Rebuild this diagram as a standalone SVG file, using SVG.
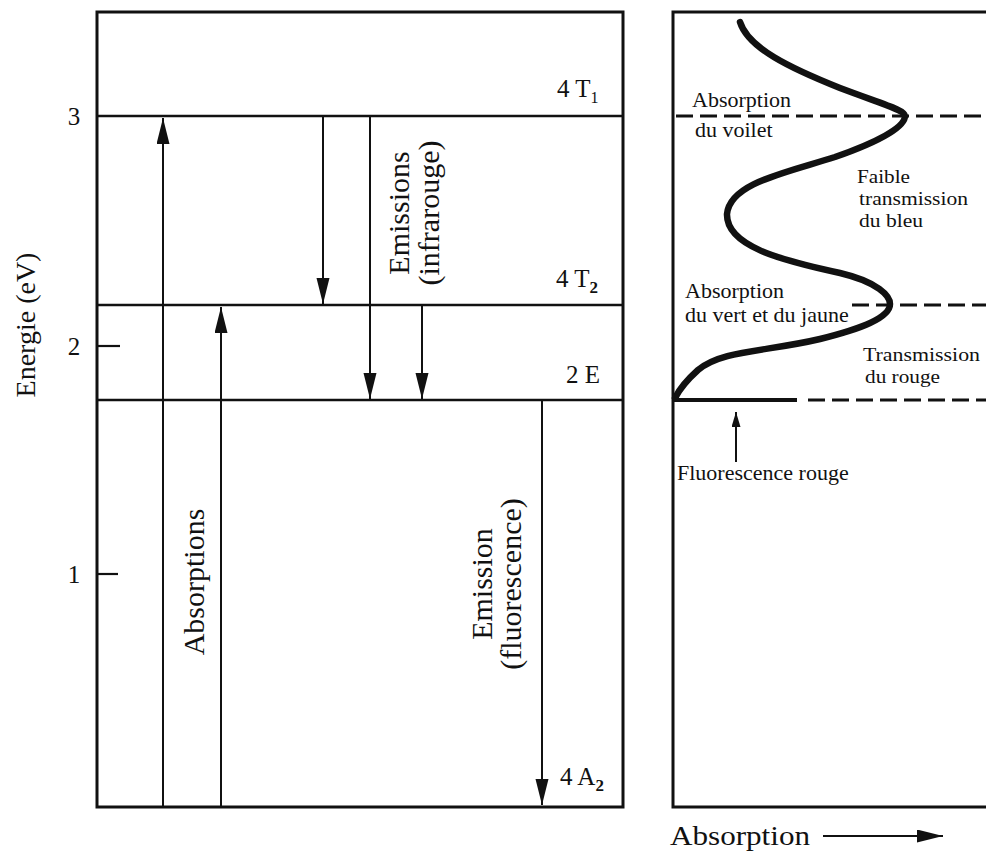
<svg xmlns="http://www.w3.org/2000/svg" width="986" height="852" viewBox="0 0 986 852">
<style>
text{font-family:"Liberation Serif","Times New Roman",serif;fill:#111}
.box{fill:none;stroke:#111;stroke-width:3}
.lvl{stroke:#111;stroke-width:2.6}
.tick{stroke:#111;stroke-width:2.2}
.arr{stroke:#111;stroke-width:2;fill:none}
.dash{stroke:#111;stroke-width:3;stroke-dasharray:17 7;fill:none}
.big{font-size:30px}
.lab{font-size:25px}
.sm{font-size:22px}
.xs{font-size:19.5px}
</style>
<defs>
<marker id="ah" markerUnits="userSpaceOnUse" markerWidth="27" markerHeight="14" refX="26" refY="6.5" orient="auto">
<path d="M0,0 L26,6.5 L0,13 z" fill="#111"/>
</marker>
<marker id="ahs" markerUnits="userSpaceOnUse" markerWidth="16" markerHeight="10" refX="15" refY="4.5" orient="auto">
<path d="M0,0 L15,4.5 L0,9 z" fill="#111"/>
</marker>
</defs>
<rect fill="#fff" width="986" height="852"/>

<g id="energy-axis">
<rect class="box" x="97" y="12" width="526" height="795"/>
<line class="tick" x1="97" y1="346" x2="120" y2="346"/>
<line class="tick" x1="97" y1="574" x2="118" y2="574"/>
<text x="74" y="125" text-anchor="middle" font-size="25">3</text>
<text x="74" y="355" text-anchor="middle" font-size="25">2</text>
<text x="74" y="583" text-anchor="middle" font-size="25">1</text>
<text transform="translate(35,325) rotate(-90)" text-anchor="middle" font-size="28">Energie (eV)</text>
</g>

<g id="level-4T1">
<line class="lvl" x1="97" y1="116" x2="623" y2="116"/>
<text class="lab" x="557" y="97">4 T<tspan dy="6" font-size="16">1</tspan></text>
</g>
<g id="level-4T2">
<line class="lvl" x1="97" y1="305" x2="623" y2="305"/>
<text class="lab" x="556" y="287">4 T<tspan dy="6" font-size="17" font-weight="bold">2</tspan></text>
</g>
<g id="level-2E">
<line class="lvl" x1="97" y1="400" x2="623" y2="400"/>
<text class="lab" x="566" y="383">2 E</text>
</g>
<g id="level-4A2">
<text class="lab" x="560" y="785">4 A<tspan dy="6" font-size="17" font-weight="bold">2</tspan></text>
</g>

<g id="connectors">
<line class="arr" x1="163" y1="807" x2="163" y2="118" marker-end="url(#ah)"/>
<line class="arr" x1="221" y1="807" x2="221" y2="307" marker-end="url(#ah)"/>
<line class="arr" x1="323" y1="116" x2="323" y2="304" marker-end="url(#ah)"/>
<line class="arr" x1="370" y1="116" x2="370" y2="399" marker-end="url(#ah)"/>
<line class="arr" x1="422" y1="305" x2="422" y2="399" marker-end="url(#ah)"/>
<line class="arr" x1="542" y1="400" x2="542" y2="805" marker-end="url(#ah)"/>
<line class="arr" x1="736" y1="462" x2="736" y2="412" marker-end="url(#ahs)"/>
<line class="arr" x1="823" y1="836" x2="943" y2="836" stroke-width="2.2" marker-end="url(#ah)"/>
</g>

<g id="label-emissions">
<text class="big" transform="translate(409,213) rotate(-90)" text-anchor="middle">Emissions</text>
<text class="big" transform="translate(439,213) rotate(-90)" text-anchor="middle">(infrarouge)</text>
</g>
<g id="label-absorptions">
<text class="big" transform="translate(204,582) rotate(-90)" text-anchor="middle">Absorptions</text>
</g>
<g id="label-emission">
<text class="big" transform="translate(492,584) rotate(-90)" text-anchor="middle">Emission</text>
<text class="big" transform="translate(521,584) rotate(-90)" text-anchor="middle">(fluorescence)</text>
</g>

<g id="absorption-panel">
<path class="box" d="M986,12 L673,12 L673,807 L986,807"/>
<path d="M740,22 C748,48 790,68 840,88 C885,105 905,110 905,116 C905,128 875,143 835,157 C785,173 730,183 727,214 C726,246 780,260 840,273 C878,282 890,296 890,304 C890,318 860,329 820,339 C765,352 722,350 698,370 C688,379 680,388 675,398" fill="none" stroke="#111" stroke-width="6.5" stroke-linecap="round"/>
<line class="dash" x1="676" y1="116" x2="986" y2="116"/>
<line class="dash" x1="852" y1="305" x2="986" y2="305"/>
<line stroke="#111" stroke-width="4" x1="673" y1="400" x2="797" y2="400"/>
<line class="dash" x1="808" y1="400" x2="986" y2="400"/>
</g>

<g id="label-absorption-voilet">
<text class="sm" x="692" y="107">Absorption</text>
<text class="sm" x="695" y="137">du voilet</text>
</g>
<g id="label-faible">
<text class="xs" x="857" y="183" textLength="53" lengthAdjust="spacingAndGlyphs">Faible</text>
<text class="xs" x="859" y="205" textLength="109" lengthAdjust="spacingAndGlyphs">transmission</text>
<text class="xs" x="859" y="227" textLength="64" lengthAdjust="spacingAndGlyphs">du bleu</text>
</g>
<g id="label-absorption-vert">
<text class="sm" x="685" y="298">Absorption</text>
<text class="sm" x="685" y="322">du vert et du jaune</text>
</g>
<g id="label-transmission">
<text class="xs" x="863" y="361" textLength="117" lengthAdjust="spacingAndGlyphs">Transmission</text>
<text class="xs" x="865" y="383" textLength="75" lengthAdjust="spacingAndGlyphs">du rouge</text>
</g>
<g id="label-fluorescence">
<text class="sm" x="677" y="480">Fluorescence rouge</text>
</g>
<g id="label-absorption-axis">
<text x="670" y="845" font-size="28" textLength="140" lengthAdjust="spacingAndGlyphs">Absorption</text>
</g>
</svg>
